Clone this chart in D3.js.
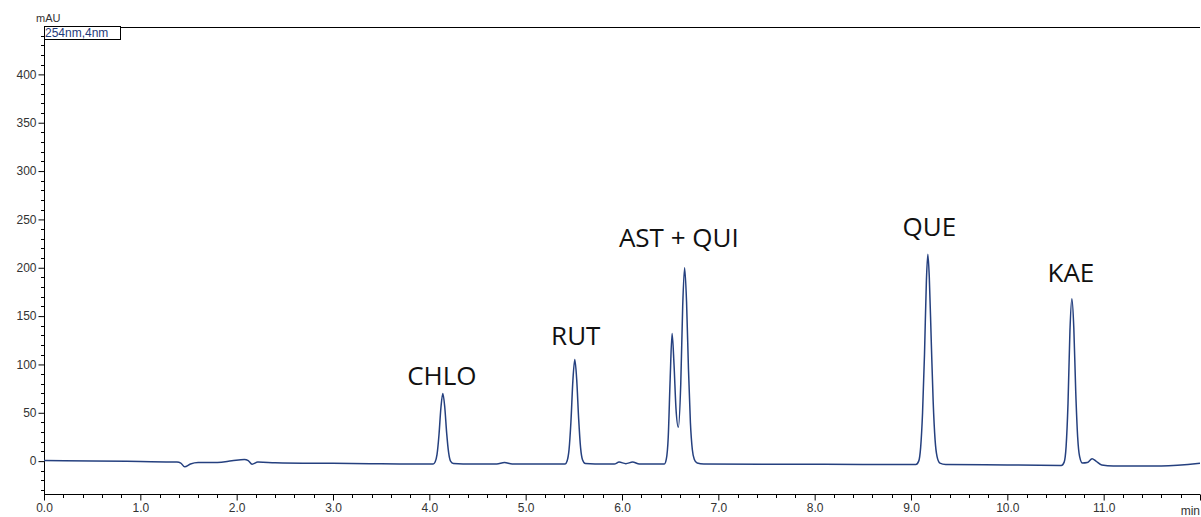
<!DOCTYPE html>
<html>
<head>
<meta charset="utf-8">
<script src="https://cdn.jsdelivr.net/npm/d3@7"></script>
<style>
body { margin: 0; background: #fff; }
svg { display: block; }
.axis text { font-family: "Liberation Sans", Arial, sans-serif; font-size: 12px; fill: #333; }
.axis path, .axis line { stroke: #000; }
.peak { font-family: "Open Sans", sans-serif; font-size: 26px; fill: #111; }
</style>
</head>
<body>
<svg width="1201" height="517"></svg>
<script>
// retention time (min) and absorbance (mAU)
var times = [0.00, 0.50, 1.00, 1.38, 1.42, 1.46, 1.52, 1.60, 1.80, 1.95, 2.08, 2.12, 2.16, 2.22, 2.40, 3.00, 3.50,
  4.00, 4.04, 4.06, 4.08, 4.10, 4.12, 4.14, 4.16, 4.18, 4.20, 4.22, 4.25, 4.35,
  4.70, 4.78, 4.86, 5.30, 5.41, 5.43, 5.45, 5.47, 5.49, 5.51, 5.53, 5.55, 5.57, 5.59, 5.62, 5.72,
  5.92, 5.97, 6.04, 6.11, 6.18, 6.44, 6.46, 6.48, 6.50, 6.52, 6.54, 6.56, 6.585, 6.61, 6.63, 6.65, 6.67, 6.69, 6.71, 6.73, 6.75, 6.78, 6.85,
  7.50, 8.50, 9.05, 9.08, 9.10, 9.12, 9.14, 9.16, 9.175, 9.19, 9.21, 9.23, 9.25, 9.27, 9.30, 9.36,
  10.00, 10.56, 10.59, 10.61, 10.63, 10.65, 10.67, 10.69, 10.71, 10.73, 10.75, 10.78, 10.83, 10.88, 10.92, 10.98, 11.10, 11.60, 12.00];
var mau = [0.6, 0.2, -0.4, -1.0, -2.0, -5.8, -3.0, -1.5, -1.4, 0.3, 1.8, 0.5, -3.2, -1.0, -1.6, -2.3, -2.8,
  -3.0, -3.0, -0.9, 6.9, 27, 55, 70, 56, 29, 9, 0, -2.5, -3.0,
  -3.0, -1.4, -3.0, -3.0, -3.0, 0.1, 11.6, 41, 83, 105, 84, 44, 14, 1.5, -2.5, -3.0,
  -3.0, -1.0, -2.6, -1.0, -3.0, -3.0, 2, 25, 85, 132, 100, 55, 35, 80, 160, 200, 165, 95, 40, 12, 2, -2, -3.0,
  -3.2, -3.4, -3.5, 0, 14, 50, 110, 187, 214, 190, 125, 62, 22, 5, -2, -3.5,
  -4.0, -4.5, -1, 15, 60, 135, 168, 138, 72, 25, 5, -2, -1.5, 2.5, 0, -4, -5, -5, -2.2];

var peakNames = ["CHLO", "RUT", "AST + QUI", "QUE", "KAE"];
var peakTimes = [4.13, 5.52, 6.59, 9.19, 10.66];
var peakLabelY = [79, 120, 221, 233, 185];   // mAU level of label baseline

var yTicks = [0, 50, 100, 150, 200, 250, 300, 350, 400];
var xTicks = [0, 1, 2, 3, 4, 5, 6, 7, 8, 9, 10, 11, 12];

var svg = d3.select("svg");
var pLeft = 44, pRight = 1200, pTop = 27, pBottom = 494;

var x = d3.scaleLinear().domain([0, 12]).range([pLeft, pRight]);
var y = d3.scaleLinear().domain([-34, 449]).range([pBottom, pTop]);

// frame top line
svg.append("line")
  .attr("x1", pLeft).attr("x2", pRight).attr("y1", pTop + 0.5).attr("y2", pTop + 0.5)
  .attr("stroke", "#000");

// minor ticks
var yMinor = d3.range(-30, 450, 10).filter(function(d) { return d % 50 !== 0; });
svg.append("g").selectAll("line").data(yMinor).enter().append("line")
  .attr("x1", pLeft - 3).attr("x2", pLeft)
  .attr("y1", function(d) { return Math.round(y(d)) + 0.5; })
  .attr("y2", function(d) { return Math.round(y(d)) + 0.5; })
  .attr("stroke", "#000");

var xMinor = d3.range(1, 60).map(function(i) { return i * 0.2; })
  .filter(function(d) { return Math.abs(d - Math.round(d)) > 0.01; });
svg.append("g").selectAll("line").data(xMinor).enter().append("line")
  .attr("x1", function(d) { return Math.round(x(d)) + 0.5; })
  .attr("x2", function(d) { return Math.round(x(d)) + 0.5; })
  .attr("y1", pBottom).attr("y2", pBottom + 4)
  .attr("stroke", "#000");

// axes
svg.append("g")
  .attr("class", "axis")
  .attr("transform", "translate(" + (pLeft + 0.5) + ",0)")
  .call(d3.axisLeft(y).tickValues(yTicks).tickSize(6).tickPadding(2).tickSizeOuter(0))
  .call(function(g) { g.select(".domain").attr("d", "M0," + pTop + "V" + pBottom); });

svg.append("g")
  .attr("class", "axis")
  .attr("transform", "translate(0," + (pBottom + 0.5) + ")")
  .call(d3.axisBottom(x).tickValues(xTicks).tickSize(6).tickPadding(3).tickSizeOuter(0)
    .tickFormat(function(d) { return d === 12 ? "" : d3.format(".1f")(d); }))
  .call(function(g) { g.select(".domain").attr("d", "M" + pLeft + ",0H" + pRight); });

svg.append("text")
  .attr("x", 1200).attr("y", 515).attr("text-anchor", "end")
  .style("font-family", "Liberation Sans, Arial, sans-serif").style("font-size", "12px").style("fill", "#333")
  .text("min");

svg.append("text")
  .attr("x", 36).attr("y", 22)
  .style("font-family", "Liberation Sans, Arial, sans-serif").style("font-size", "11px").style("fill", "#333")
  .text("mAU");

// channel box
svg.append("rect")
  .attr("x", pLeft + 0.5).attr("y", pTop - 0.5).attr("width", 76).attr("height", 13)
  .attr("fill", "#fff").attr("stroke", "#000");
svg.append("text")
  .attr("x", pLeft + 1).attr("y", pTop + 10)
  .style("font-family", "Liberation Sans, Arial, sans-serif").style("font-size", "12px").style("fill", "#1f3a7a")
  .text("254nm,4nm");

// trace
var pts = times.map(function(t, i) { return [t, mau[i]]; });
var line = d3.line()
  .x(function(d) { return x(d[0]); })
  .y(function(d) { return y(d[1]); })
  .curve(d3.curveMonotoneX);

svg.append("path")
  .datum(pts)
  .attr("d", line)
  .attr("fill", "none")
  .attr("stroke", "#25407f")
  .attr("stroke-width", 1.5);

// peak labels
svg.append("g").selectAll("text").data(peakNames).enter().append("text")
  .attr("class", "peak")
  .attr("x", function(d, i) { return x(peakTimes[i]); })
  .attr("y", function(d, i) { return y(peakLabelY[i]); })
  .attr("text-anchor", "middle")
  .text(function(d) { return d; });
</script>
</body>
</html>
